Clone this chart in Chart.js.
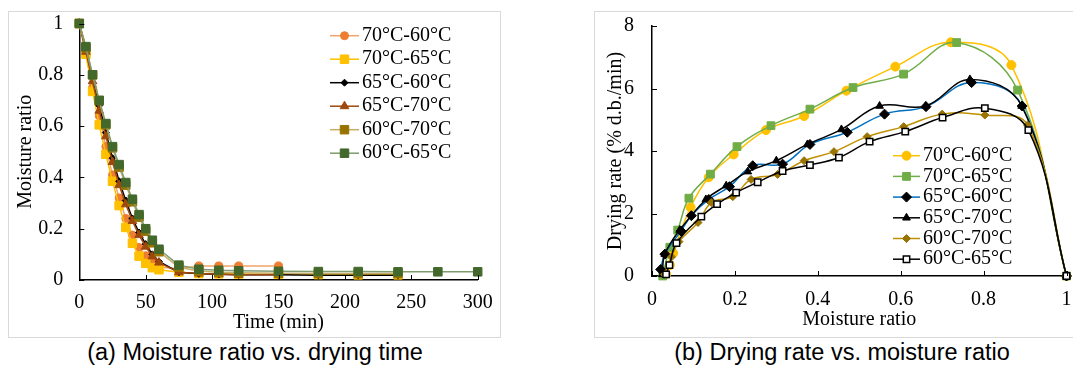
<!DOCTYPE html>
<html lang="en">
<head>
<meta charset="utf-8">
<title>Moisture ratio and drying rate</title>
<script src="https://cdn.jsdelivr.net/npm/chart.js@4.4.1/dist/chart.umd.min.js"></script>
<style>
  body { margin: 0; background: #fff; width: 1073px; height: 367px; position: relative; overflow: hidden; }
  .panel { position: absolute; box-sizing: border-box; border: 1px solid #d9d9d9; }
  canvas { position: absolute; }
  .caption { position: absolute; font-family: "Liberation Sans", Arial, sans-serif; font-size: 23.5px; color: #000; text-align: center; white-space: nowrap; }
</style>
</head>
<body>
<div class="panel" style="left:8px;top:11px;width:493px;height:327px"></div>
<div class="panel" style="left:594px;top:11px;width:500px;height:327px"></div>
<canvas id="chartA" width="492" height="326" style="left:8px;top:11px"></canvas>
<canvas id="chartB" width="479" height="326" style="left:594px;top:11px"></canvas>
<div class="caption" style="left:55px;width:400px;top:339px">(a) Moisture ratio vs. drying time</div>
<div class="caption" style="left:642px;width:400px;top:339px">(b) Drying rate vs. moisture ratio</div>

<script>
// ---- (a) moisture ratio vs drying time ----
var seriesNames = ['70°C-60°C', '70°C-65°C', '65°C-60°C', '65°C-70°C', '60°C-70°C', '60°C-65°C'];
var timeMin = [0, 5, 10, 15, 20, 25, 30, 35, 40, 45, 50, 55, 60, 75, 90, 105, 120, 150, 180, 210, 240, 270, 300];

var mr70_60 = [1, 0.88, 0.75, 0.64, 0.52, 0.41, 0.32, 0.24, 0.175, 0.127, 0.095, 0.07, 0.05, 0.045, 0.055, 0.055, 0.055, 0.055];
var mr70_65 = [1, 0.88, 0.735, 0.605, 0.49, 0.385, 0.29, 0.205, 0.143, 0.093, 0.065, 0.048, 0.04, 0.03, 0.025, 0.024, 0.023, 0.022, 0.021, 0.02, 0.02];
var mr65_60 = [1, 0.9, 0.79, 0.68, 0.575, 0.475, 0.385, 0.31, 0.24, 0.185, 0.14, 0.1, 0.072, 0.03, 0.024, 0.022, 0.02, 0.02, 0.019, 0.019, 0.019];
var mr65_70 = [1, 0.89, 0.775, 0.66, 0.56, 0.46, 0.37, 0.295, 0.23, 0.175, 0.13, 0.092, 0.068, 0.03, 0.025, 0.022, 0.02, 0.02];
var mr60_70 = [1, 0.905, 0.8, 0.7, 0.605, 0.515, 0.44, 0.37, 0.305, 0.245, 0.19, 0.145, 0.11, 0.05, 0.035, 0.03, 0.028, 0.026, 0.025, 0.025, 0.025];
var mr60_65 = [1, 0.91, 0.8, 0.7, 0.61, 0.52, 0.45, 0.38, 0.315, 0.255, 0.2, 0.155, 0.12, 0.058, 0.042, 0.038, 0.036, 0.034, 0.033, 0.033, 0.032, 0.032, 0.032];

// ---- (b) drying rate vs moisture ratio ----
var mrB70_60 = [0.034, 0.043, 0.051, 0.093, 0.137, 0.197, 0.275, 0.367, 0.469, 0.587, 0.721, 0.867, 1];
var rate70_60 = [0.06, 0.35, 0.73, 2.2, 3.16, 3.89, 4.67, 5.12, 5.93, 6.7, 7.48, 6.75, 0];
var mrB70_65 = [0.026, 0.043, 0.062, 0.089, 0.141, 0.205, 0.287, 0.381, 0.485, 0.607, 0.735, 0.882, 1];
var rate70_65 = [0, 0.92, 1.47, 2.49, 3.26, 4.14, 4.81, 5.34, 6.03, 6.46, 7.47, 5.95, 0];
var mrB65_60 = [0.021, 0.031, 0.07, 0.095, 0.137, 0.187, 0.243, 0.315, 0.381, 0.471, 0.561, 0.661, 0.771, 0.893, 1];
var rate65_60 = [0.21, 0.7, 1.44, 1.93, 2.45, 2.86, 3.53, 3.58, 4.21, 4.6, 5.18, 5.42, 6.19, 5.44, 0];
var mrB65_70 = [0.025, 0.031, 0.067, 0.13, 0.179, 0.231, 0.3, 0.375, 0.457, 0.549, 0.66, 0.767, 0.892, 1];
var rate65_70 = [0.05, 0.7, 1.47, 2.45, 2.89, 3.34, 3.69, 4.21, 4.69, 5.44, 5.44, 6.29, 5.44, 0];
var mrB60_70 = [0.03, 0.047, 0.065, 0.111, 0.143, 0.195, 0.239, 0.303, 0.367, 0.439, 0.519, 0.607, 0.7, 0.803, 0.906, 1];
var rate60_70 = [0.05, 0.61, 1.1, 1.71, 2.35, 2.54, 3.09, 3.25, 3.69, 3.98, 4.46, 4.78, 5.18, 5.15, 4.83, 0];
var mrB60_65 = [0.034, 0.042, 0.059, 0.119, 0.157, 0.203, 0.255, 0.315, 0.381, 0.451, 0.525, 0.611, 0.701, 0.803, 0.908, 1];
var rate60_65 = [0.05, 0.35, 1.05, 1.9, 2.3, 2.67, 3.0, 3.36, 3.55, 3.79, 4.3, 4.62, 5.07, 5.37, 4.67, 0];

var serif = "'Liberation Serif', 'Times New Roman', serif";

function pairs(xs, ys) {
  var out = [];
  for (var i = 0; i < ys.length; i++) out.push({x: xs[i], y: ys[i]});
  return out;
}

function makeSet(i, data, line, fill, border, style, radius, width) {
  return {
    label: seriesNames[i],
    data: data,
    borderColor: line,
    borderWidth: width,
    pointBackgroundColor: fill,
    pointBorderColor: border,
    pointBorderWidth: style === 'rect' && fill === '#ffffff' ? 1.5 : 1,
    pointStyle: style,
    pointRadius: radius,
    pointHoverRadius: radius,
    order: 6 - i,
    clip: false
  };
}

// legend drawn as line + marker + label, inside the plot like the original
var lineLegend = {
  id: 'lineLegend',
  afterDraw: function (chart, args, opts) {
    var ctx = chart.ctx;
    ctx.save();
    chart.data.datasets.forEach(function (ds, i) {
      var y = opts.top + i * opts.step;
      ctx.strokeStyle = ds.borderColor;
      ctx.lineWidth = ds.borderWidth;
      ctx.beginPath();
      ctx.moveTo(opts.left, y);
      ctx.lineTo(opts.left + opts.lineLen, y);
      ctx.stroke();
      ctx.fillStyle = ds.pointBackgroundColor;
      ctx.strokeStyle = ds.pointBorderColor;
      ctx.lineWidth = ds.pointBorderWidth;
      Chart.helpers.drawPoint(ctx, {pointStyle: ds.pointStyle, radius: ds.pointRadius, rotation: 0, borderWidth: ds.pointBorderWidth},
        opts.left + opts.lineLen / 2, y);
      ctx.fillStyle = '#000';
      ctx.font = opts.font;
      ctx.textAlign = 'left';
      ctx.textBaseline = 'middle';
      ctx.fillText(ds.label, opts.textX, y);
    });
    ctx.restore();
  }
};

// tick marks pointing into the plot
var innerTicks = {
  id: 'innerTicks',
  afterDraw: function (chart) {
    var ctx = chart.ctx, area = chart.chartArea, sx = chart.scales.x, sy = chart.scales.y;
    ctx.save();
    ctx.strokeStyle = '#000';
    ctx.lineWidth = 1;
    sx.ticks.forEach(function (t) {
      var px = Math.round(sx.getPixelForValue(t.value)) + 0.5;
      ctx.beginPath(); ctx.moveTo(px, area.bottom); ctx.lineTo(px, area.bottom - 5); ctx.stroke();
    });
    sy.ticks.forEach(function (t) {
      var py = Math.round(sy.getPixelForValue(t.value)) + 0.5;
      ctx.beginPath(); ctx.moveTo(area.left, py); ctx.lineTo(area.left + 5, py); ctx.stroke();
    });
    ctx.restore();
  }
};

function axis(min, max, step, title, yAxis, padTick, titlePad, size) {
  return {
    type: 'linear',
    min: min, max: max,
    ticks: {
      stepSize: step, color: '#000', font: {family: serif, size: 20}, padding: padTick, autoSkip: false, maxRotation: 0,
      callback: function (v) { return String(+v.toFixed(1)); }
    },
    grid: { display: false, drawTicks: false },
    border: { display: true, color: '#000', width: 1.5 },
    title: { display: true, text: title, color: '#000', font: {family: serif, size: 20}, padding: titlePad },
    afterFit: function (s) {
      // fixed axis box, no extra room for the end labels
      if (yAxis) s.width = size; else s.height = size;
      s.paddingTop = 0; s.paddingBottom = 0; s.paddingLeft = 0; s.paddingRight = 0;
    }
  };
}

var timeSets = [
  makeSet(0, pairs(timeMin, mr70_60), '#f4a46b', '#ed7d31', '#ed7d31', 'circle', 4, 1.5),
  makeSet(1, pairs(timeMin, mr70_65), '#ffc000', '#ffc000', '#ffc000', 'rect', 6, 1.5),
  makeSet(2, pairs(timeMin, mr65_60), '#000000', '#000000', '#000000', 'rectRot', 3.5, 1.5),
  makeSet(3, pairs(timeMin, mr65_70), '#9e480e', '#9e480e', '#9e480e', 'triangle', 5, 1.5),
  makeSet(4, pairs(timeMin, mr60_70), '#c5ae6a', '#997300', '#997300', 'rect', 6, 1.5),
  makeSet(5, pairs(timeMin, mr60_65), '#7e9c6e', '#43682b', '#43682b', 'rect', 6, 1.5)
];

new Chart(document.getElementById('chartA'), {
  type: 'line',
  data: { datasets: timeSets },
  options: {
    responsive: false,
    animation: false,
    devicePixelRatio: 1,
    layout: { padding: {left: 0, top: 12.5, right: 22.3, bottom: 0} },
    elements: { line: { tension: 0 } },
    scales: {
      x: axis(0, 300, 50, 'Time (min)', false, 11, {top: 0, bottom: 2}, 57),
      y: axis(0, 1, 0.2, 'Moisture ratio', true, 16, {top: 5.5, bottom: 0}, 71.3)
    },
    plugins: {
      legend: { display: false },
      tooltip: { enabled: false },
      lineLegend: { left: 322, lineLen: 29, textX: 354, top: 24.7, step: 23.5, font: '20px ' + serif }
    }
  },
  plugins: [lineLegend, innerTicks]
});

var rateSets = [
  makeSet(0, pairs(mrB70_60, rate70_60), '#ffc000', '#ffc000', '#ffc000', 'circle', 4.5, 1.5),
  makeSet(1, pairs(mrB70_65, rate70_65), '#70ad47', '#70ad47', '#70ad47', 'rect', 5.5, 1.5),
  makeSet(2, pairs(mrB65_60, rate65_60), '#0070c0', '#000000', '#000000', 'rectRot', 5, 1.5),
  makeSet(3, pairs(mrB65_70, rate65_70), '#000000', '#000000', '#000000', 'triangle', 4.5, 1.5),
  makeSet(4, pairs(mrB60_70, rate60_70), '#bf9000', '#997300', '#997300', 'rectRot', 4, 1.5),
  makeSet(5, pairs(mrB60_65, rate60_65), '#000000', '#ffffff', '#000000', 'rect', 4.5, 1.5)
];

new Chart(document.getElementById('chartB'), {
  type: 'line',
  data: { datasets: rateSets },
  options: {
    responsive: false,
    animation: false,
    devicePixelRatio: 1,
    layout: { padding: {left: 0, top: 15, right: 1, bottom: 0} },
    elements: { line: { tension: 0.4 } },
    scales: {
      x: axis(0, 1, 0.2, 'Moisture ratio', false, 12, {top: 0, bottom: 5.6}, 61),
      y: axis(0, 8, 2, 'Drying rate (% d.b./min)', true, 18, {top: 9.6, bottom: 0}, 58)
    },
    plugins: {
      legend: { display: false },
      tooltip: { enabled: false },
      lineLegend: { left: 299, lineLen: 27, textX: 329, top: 144.7, step: 20.7, font: '20px ' + serif }
    }
  },
  plugins: [lineLegend, innerTicks]
});
</script>
</body>
</html>
